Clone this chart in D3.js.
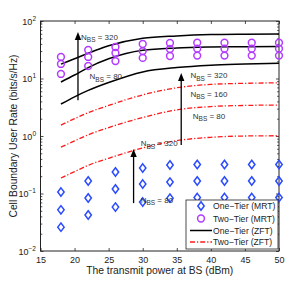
<!DOCTYPE html>
<html><head><meta charset="utf-8">
<script src="https://cdn.jsdelivr.net/npm/d3@7"></script>
<style>body{margin:0;background:#fff}svg{display:block}text{font-family:"Liberation Sans",Arial,sans-serif}</style>
</head><body>
<svg id="c" width="308" height="283"></svg>
<script>
const powerDbm = [18, 22, 26, 30, 34, 38, 42, 46, 50];
const lineX = [18, 20, 22, 25, 30, 35, 40, 45, 50];
const oneTierMRT = [
  [0.106, 0.165, 0.237, 0.277, 0.313, 0.32, 0.32, 0.32, 0.32],
  [0.052, 0.0835, 0.12, 0.146, 0.158, 0.165, 0.165, 0.165, 0.165],
  [0.026, 0.0423, 0.058, 0.071, 0.083, 0.085, 0.085, 0.085, 0.085]
];
const twoTierMRT = [
  [23.7, 31.3, 35.3, 39.8, 41.4, 42, 42, 42, 42],
  [17.9, 23.7, 27.8, 30, 32.6, 33, 33, 33, 33],
  [12.0, 16.5, 20.1, 22.8, 24.6, 25, 25, 25, 25]
];
const oneTierZFT = [
  [17.8, 22, 27.5, 37, 50, 55, 58, 59, 59.5],
  [8.7, 11.5, 15.5, 22, 31, 34, 35.3, 35.8, 36],
  [3.6, 4.8, 6.2, 8.5, 13, 15.5, 17, 17.8, 18.5]
];
const twoTierZFT = [
  [1.55, 2.0, 2.55, 3.4, 5.2, 6.9, 7.9, 8.25, 8.4],
  [0.64, 0.82, 1.05, 1.4, 2.1, 2.85, 3.25, 3.4, 3.45],
  [0.186, 0.24, 0.31, 0.41, 0.62, 0.83, 0.95, 1.0, 1.01]
];
const xTicks = [15, 20, 25, 30, 35, 40, 45, 50];
const yTickExp = [-2, -1, 0, 1, 2];
const arrows = [
  {x: 20.5, from: 4.2, to: 64.4},
  {x: 35.65, from: 0.70, to: 12.5},
  {x: 28.66, from: 0.068, to: 0.594}
];
const annotations = [
  {x: 20.95, y: 47, n: "320"},
  {x: 22.2, y: 9.8, n: "80"},
  {x: 37.0, y: 10.2, n: "320"},
  {x: 37.0, y: 4.8, n: "160"},
  {x: 37.35, y: 1.98, n: "80"},
  {x: 29.7, y: 0.66, n: "320"},
  {x: 29.7, y: 0.069, n: "80"}
];
const legendItems = ["One\u2212Tier (MRT)", "Two\u2212Tier (MRT)", "One\u2212Tier (ZFT)", "Two\u2212Tier (ZFT)"];

const svg = d3.select("#c");
const L = 40.5, R = 279, T = 21, B = 251;
const x = d3.scaleLinear().domain([15, 50]).range([L, R]);
const y = d3.scaleLog().domain([1e-2, 1e2]).range([B, T]);
const ink = "#222";

// frame
svg.append("rect").attr("x", L).attr("y", T).attr("width", R - L).attr("height", B - T)
  .attr("fill", "none").attr("stroke", ink).attr("stroke-width", 1);

// x ticks bottom & top
const gxB = svg.append("g").attr("transform", `translate(0,${B})`)
  .call(d3.axisBottom(x).tickValues(xTicks).tickSize(-3).tickPadding(6).tickFormat(d3.format("d")));
const gxT = svg.append("g").attr("transform", `translate(0,${T})`)
  .call(d3.axisTop(x).tickValues(xTicks).tickSize(-3).tickFormat(""));
// y ticks left/right
const minor = [];
for (let e = -2; e < 2; e++) for (let m = 2; m <= 9; m++) minor.push(m * Math.pow(10, e));
const major = yTickExp.map(e => Math.pow(10, e));
const gyL = svg.append("g").attr("transform", `translate(${L},0)`)
  .call(d3.axisLeft(y).tickValues(major).tickSize(-3).tickFormat(""));
const gyLm = svg.append("g").attr("transform", `translate(${L},0)`)
  .call(d3.axisLeft(y).tickValues(minor).tickSize(-1.8).tickFormat(""));
const gyR = svg.append("g").attr("transform", `translate(${R},0)`)
  .call(d3.axisRight(y).tickValues(major).tickSize(-3).tickFormat(""));
const gyRm = svg.append("g").attr("transform", `translate(${R},0)`)
  .call(d3.axisRight(y).tickValues(minor).tickSize(-1.8).tickFormat(""));
[gxB, gxT, gyL, gyLm, gyR, gyRm].forEach(g => {
  g.select(".domain").remove();
  g.selectAll("line").attr("stroke", ink).attr("stroke-width", 0.8);
  g.selectAll("text").attr("font-size", 9).attr("fill", ink).attr("font-family", '"Liberation Sans",Arial,sans-serif');
});
// y tick labels with superscripts
yTickExp.forEach(e => {
  const t = svg.append("text").attr("x", 36).attr("y", y(Math.pow(10, e)) + 3.5)
    .attr("text-anchor", "end").attr("font-size", 9).attr("fill", ink);
  t.append("tspan").text("10");
  t.append("tspan").attr("dy", -4).attr("font-size", 6.5).text(e < 0 ? "\u2212" + Math.abs(e) : String(e));
});

// axis titles
svg.append("text").attr("x", (L + R) / 2).attr("y", 274).attr("text-anchor", "middle")
  .attr("font-size", 10.3).attr("fill", ink).text("The transmit power at BS (dBm)");
svg.append("text").attr("transform", `translate(17,${(T + B) / 2}) rotate(-90)`).attr("text-anchor", "middle")
  .attr("font-size", 10.3).attr("fill", ink).text("Cell Boundary User Rate (bits/s/Hz)");

const line = d3.line().x((d, i) => x(lineX[i])).y(d => y(d)).curve(d3.curveMonotoneX);
const plot = svg.append("g");
oneTierZFT.forEach(s => plot.append("path").attr("d", line(s)).attr("fill", "none")
  .attr("stroke", "#000").attr("stroke-width", 1.5));
twoTierZFT.forEach(s => plot.append("path").attr("d", line(s)).attr("fill", "none")
  .attr("stroke", "#ff1a1a").attr("stroke-width", 1.3).attr("stroke-dasharray", "5,2,1.2,2"));

const diamond = (cx, cy) => `M${cx},${cy - 4.2}L${cx + 3.2},${cy}L${cx},${cy + 4.2}L${cx - 3.2},${cy}Z`;
oneTierMRT.forEach(s => s.forEach((v, i) => plot.append("path").attr("d", diamond(x(powerDbm[i]), y(v)))
  .attr("fill", "none").attr("stroke", "#2b4bff").attr("stroke-width", 1.5)));
twoTierMRT.forEach(s => s.forEach((v, i) => plot.append("circle").attr("cx", x(powerDbm[i])).attr("cy", y(v))
  .attr("r", 3.4).attr("fill", "none").attr("stroke", "#b33bff").attr("stroke-width", 1.5)));

// arrows
arrows.forEach(a => {
  const ax = x(a.x), y0 = y(a.from), y1 = y(a.to);
  plot.append("line").attr("x1", ax).attr("x2", ax).attr("y1", y0).attr("y2", y1 + 6)
    .attr("stroke", "#000").attr("stroke-width", 1.3);
  plot.append("path").attr("d", `M${ax},${y1}L${ax + 3.2},${y1 + 8}L${ax - 3.2},${y1 + 8}Z`).attr("fill", "#000");
});
// annotations
annotations.forEach(a => {
  const t = plot.append("text").attr("x", x(a.x)).attr("y", y(a.y)).attr("font-size", 8).attr("fill", "#333");
  t.append("tspan").text("N");
  t.append("tspan").attr("dy", 2.5).attr("font-size", 6.5).text("BS");
  t.append("tspan").attr("dy", -2.5).text(" = " + a.n);
});

// legend
const lg = svg.append("g");
const lx = 186, ly = 200, lw = 92, lh = 49;
lg.append("rect").attr("x", lx).attr("y", ly).attr("width", lw).attr("height", lh)
  .attr("fill", "#fff").attr("stroke", ink).attr("stroke-width", 0.8);
const rows = [206, 218.5, 230.5, 242];
legendItems.forEach((name, i) => {
  const ry = rows[i], mx = 201;
  if (i === 0) lg.append("path").attr("d", diamond(mx, ry)).attr("fill", "none").attr("stroke", "#2b4bff").attr("stroke-width", 1.5);
  if (i === 1) lg.append("circle").attr("cx", mx).attr("cy", ry).attr("r", 3.4).attr("fill", "none").attr("stroke", "#b33bff").attr("stroke-width", 1.5);
  if (i === 2) lg.append("line").attr("x1", 190).attr("x2", 212).attr("y1", ry).attr("y2", ry).attr("stroke", "#000").attr("stroke-width", 1.5);
  if (i === 3) lg.append("line").attr("x1", 190).attr("x2", 212).attr("y1", ry).attr("y2", ry).attr("stroke", "#ff1a1a").attr("stroke-width", 1.3).attr("stroke-dasharray", "5,2,1.2,2");
  lg.append("text").attr("x", 213).attr("y", ry + 3.2).attr("font-size", 8.6).attr("fill", ink).text(name);
});
</script>
</body></html>
